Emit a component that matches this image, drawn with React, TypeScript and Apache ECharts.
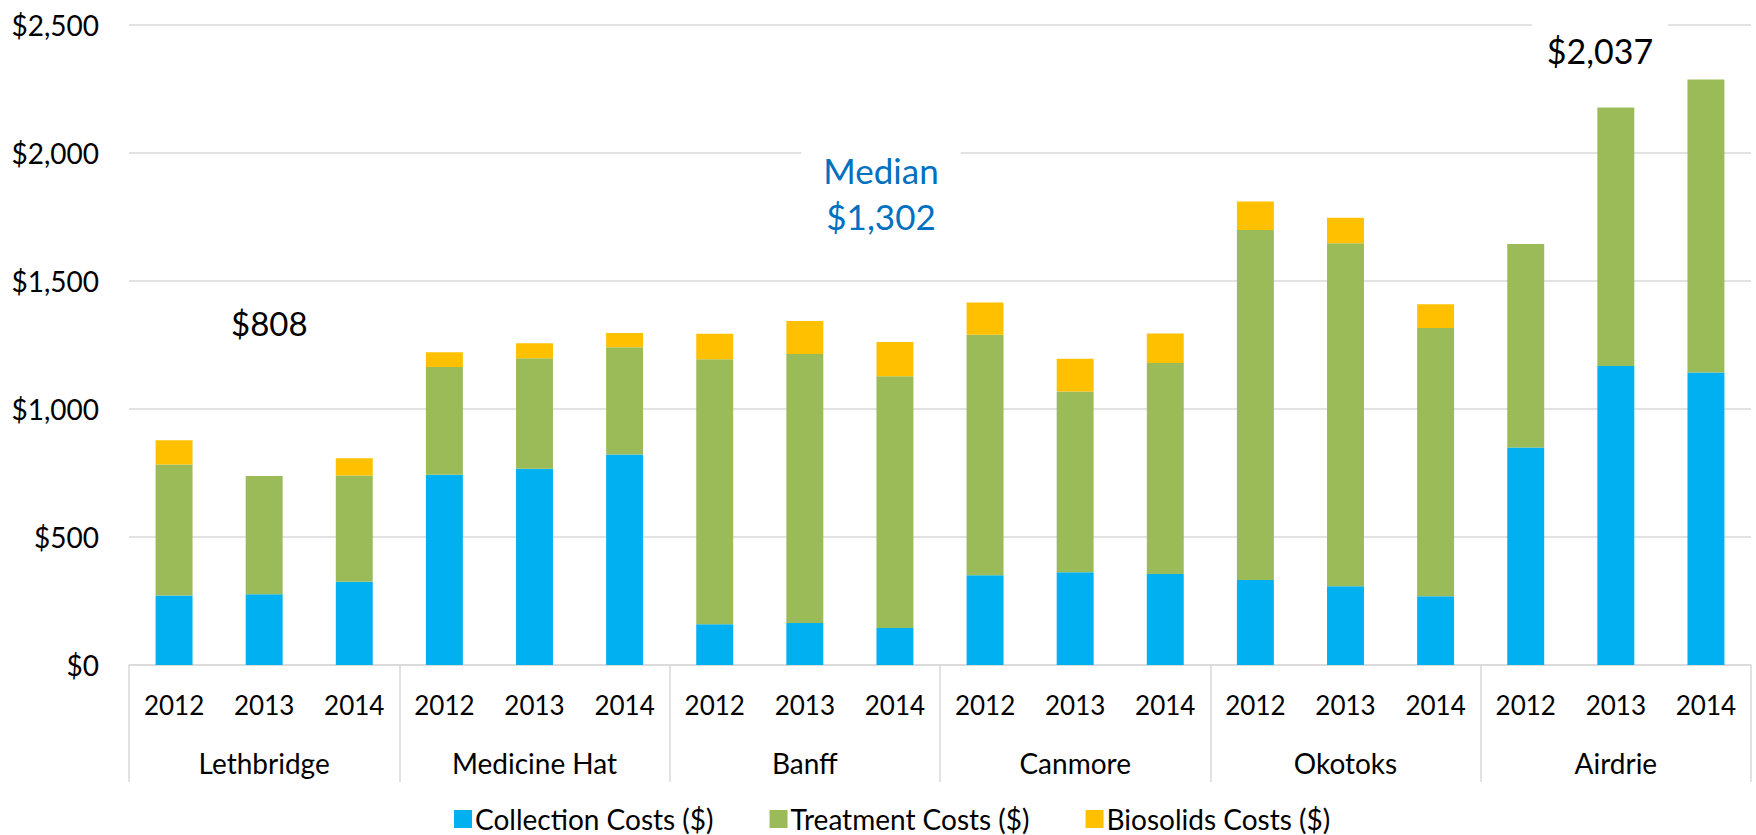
import React, { useEffect, useRef } from "react";
import * as echarts from "echarts";

const cities = ["Lethbridge", "Medicine Hat", "Banff", "Canmore", "Okotoks", "Airdrie"];
const years = ["2012", "2013", "2014"];
const collectionCosts = [271, 276, 325, 743, 767, 822, 159, 164, 145, 351, 362, 355, 332, 308, 269, 850, 1168, 1143];
const treatmentCosts = [512, 462, 415, 421, 431, 419, 1035, 1051, 983, 939, 706, 825, 1367, 1339, 1047, 795, 1010, 1144];
const biosolidsCosts = [95, 0, 68, 58, 59, 56, 100, 129, 134, 126, 128, 115, 112, 100, 93, 0, 0, 0];
const seriesNames = ["Collection Costs ($)", "Treatment Costs ($)", "Biosolids Costs ($)"];
const seriesColors = ["#00B0F0", "#9BBB59", "#FFC000"];
const yTicks = { min: 0, max: 2500, interval: 500 };

const FONT = "Lato, 'Noto Sans', sans-serif";

export default function App() {
  const ref = useRef<HTMLDivElement>(null);
  useEffect(() => {
    if (!ref.current) return;
    const chart = echarts.init(ref.current, null, { renderer: "svg" });
    const yearLabels: string[] = [];
    cities.forEach(() => years.forEach((y) => yearLabels.push(y)));
    const values = [collectionCosts, treatmentCosts, biosolidsCosts];
    chart.setOption({
      animation: false,
      backgroundColor: "#ffffff",
      textStyle: { fontFamily: FONT },
      grid: { left: 129, right: 5, top: 25, bottom: 170, containLabel: false },
      legend: {
        top: 803,
        left: 452,
        padding: 2,
        itemWidth: 18,
        itemHeight: 18,
        itemGap: 56,
        icon: "rect",
        textStyle: { fontFamily: FONT, fontSize: 28, lineHeight: 28, color: "#000", padding: [0, 0, 0, -2] },
        data: seriesNames,
      },
      xAxis: [
        {
          type: "category",
          position: "bottom",
          data: yearLabels,
          axisLine: { show: true, lineStyle: { color: "#d9d9d9", width: 1.5 } },
          axisTick: { show: false },
          axisLabel: { interval: 0, margin: 27, fontFamily: FONT, fontSize: 26, color: "#000" },
        },
        {
          type: "category",
          position: "bottom",
          data: cities,
          axisLine: { show: false },
          axisTick: { show: true, length: 117, interval: 0, lineStyle: { color: "#d9d9d9", width: 1.5 } },
          axisLabel: { interval: 0, margin: 84, fontFamily: FONT, fontSize: 28, color: "#000" },
          splitLine: { show: false },
        },
      ],
      yAxis: {
        type: "value",
        min: yTicks.min,
        max: yTicks.max,
        interval: yTicks.interval,
        axisLine: { show: false },
        axisTick: { show: false },
        splitLine: { lineStyle: { color: "#d9d9d9", width: 1.5 } },
        axisLabel: {
          margin: 30,
          fontFamily: FONT,
          fontSize: 28,
          color: "#000",
          formatter: (v: number) => "$" + v.toLocaleString("en-US"),
        },
      },
      series: seriesNames.map((name, i) => ({
        name,
        type: "bar",
        stack: "total",
        barWidth: "41%",
        xAxisIndex: 0,
        itemStyle: { color: seriesColors[i] },
        data: values[i],
      })),
      graphic: [
        {
          type: "text",
          z: 100,
          left: 231,
          top: 306,
          style: { text: "$808", fontFamily: FONT, fontSize: 33, fill: "#000" },
        },
        {
          type: "text",
          z: 100,
          x: 881,
          y: 193,
          style: {
            text: "Median\n$1,302",
            fontFamily: FONT,
            fontSize: 35,
            lineHeight: 46,
            fill: "#0070C0",
            align: "center",
            verticalAlign: "middle",
            backgroundColor: "#ffffff",
            padding: [12, 22, 12, 22],
          },
        },
        {
          type: "text",
          z: 100,
          x: 1600,
          y: 50,
          style: {
            text: "$2,037",
            fontFamily: FONT,
            fontSize: 34,
            fill: "#000",
            align: "center",
            verticalAlign: "middle",
            backgroundColor: "#ffffff",
            padding: [12, 15, 12, 15],
          },
        },
      ],
    });
    return () => chart.dispose();
  }, []);
  return (
    <div
      ref={ref}
      style={{ position: "fixed", left: 0, top: 0, width: 1756, height: 835, background: "#fff" }}
    />
  );
}
